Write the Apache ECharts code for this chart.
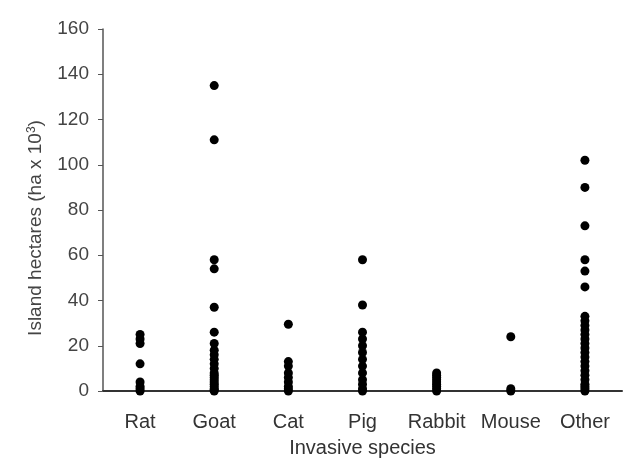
<!DOCTYPE html>
<html>
<head>
<meta charset="utf-8">
<script src="https://cdn.jsdelivr.net/npm/echarts@6/dist/echarts.min.js"></script>
<style>html,body{margin:0;padding:0;background:#fff;width:100%;height:100%;overflow:hidden;}#c{width:100%;height:100%;}</style>
</head>
<body>
<div id="c"></div>
<script>
var categories = ['Rat', 'Goat', 'Cat', 'Pig', 'Rabbit', 'Mouse', 'Other'];
var yTicks = [0, 20, 40, 60, 80, 100, 120, 140, 160];
var rat = [25, 23, 21, 12, 4, 2, 1, 0];
var goat = [135, 111, 58, 54, 37, 26, 21, 18, 16, 14, 12, 10, 8, 7, 6, 5, 4, 3, 2, 1, 0.5, 0];
var cat = [29.5, 13, 11, 8, 6, 4, 2, 1, 0];
var pig = [58, 38, 26, 23, 20, 17, 14, 11, 8, 5, 3, 1, 0];
var rabbit = [8, 7, 6, 5, 4, 3, 2, 1, 0];
var mouse = [24, 1, 0];
var other = [102, 90, 73, 58, 53, 46, 33, 31, 29, 27, 25, 23, 21, 19, 17, 15, 13, 11, 9, 7, 5, 3, 2, 1, 0];

var groups = [rat, goat, cat, pig, rabbit, mouse, other];
var points = [];
groups.forEach(function (g, i) {
  g.forEach(function (v) { points.push([i, v]); });
});

var chart = echarts.init(document.getElementById('c'), null, {renderer: 'canvas'});
chart.setOption({
  animation: false,
  backgroundColor: '#ffffff',
  grid: {left: 103, right: 12, top: 29, bottom: 64, containLabel: false},
  xAxis: {
    type: 'category',
    data: categories,
    boundaryGap: true,
    name: 'Invasive species',
    nameLocation: 'middle',
    nameGap: 47,
    nameTextStyle: {fontFamily: 'Liberation Sans', fontSize: 20, color: '#333'},
    axisLine: {show: true, lineStyle: {color: '#333', width: 2}},
    axisTick: {show: false},
    axisLabel: {fontFamily: 'Liberation Sans', fontSize: 20, color: '#333', margin: 21, interval: 0},
    splitLine: {show: false}
  },
  yAxis: {
    type: 'value',
    min: yTicks[0],
    max: yTicks[yTicks.length - 1],
    interval: 20,
    name: 'Island hectares (ha x 10{sup|3})',
    nameLocation: 'middle',
    nameGap: 57,
    nameTextStyle: {
      fontFamily: 'Liberation Sans', fontSize: 19, color: '#444', padding: [0, 36, 0, 0],
      rich: {sup: {fontFamily: 'Liberation Sans', fontSize: 12, color: '#444', verticalAlign: 'top', padding: [0, 0, 8, 0]}}
    },
    axisLine: {show: true, lineStyle: {color: '#555', width: 1.5}},
    axisTick: {show: true, inside: false, length: 5, lineStyle: {color: '#555'}},
    axisLabel: {fontFamily: 'Liberation Sans', fontSize: 19, color: '#444', margin: 14},
    splitLine: {show: false}
  },
  series: [{
    type: 'scatter',
    data: points,
    symbol: 'circle',
    symbolSize: 9,
    itemStyle: {color: '#000', opacity: 1},
    clip: false
  }]
});
</script>
</body>
</html>
